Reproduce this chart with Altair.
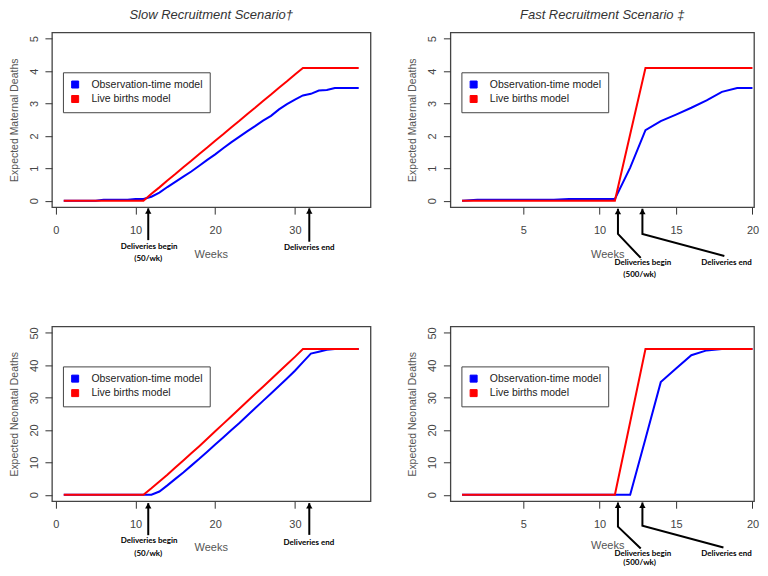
import altair as alt
import pandas as pd

# ---------------- data ----------------
weeks_slow = list(range(1, 39))
weeks_fast = list(range(1, 21))

series_names = ["Observation-time model", "Live births model"]
series_colors = ["#0000ff", "#ff0000"]

slow_maternal_obs = [0, 0, 0, 0, 0, 0.03, 0.03, 0.03, 0.03, 0.05, 0.05,
                     0.12, 0.25, 0.42, 0.58, 0.74, 0.90, 1.08, 1.26, 1.43, 1.62,
                     1.80, 1.97, 2.14, 2.30, 2.47, 2.62, 2.82, 2.98, 3.12, 3.25,
                     3.30, 3.40, 3.42, 3.48, 3.48, 3.48, 3.48]
slow_maternal_live = [0, 0, 0, 0, 0, 0, 0, 0, 0, 0, 0,
                      0.21, 0.41, 0.62, 0.82, 1.03, 1.23, 1.44, 1.64, 1.85, 2.05,
                      2.26, 2.46, 2.67, 2.87, 3.08, 3.28, 3.49, 3.69, 3.90, 4.10,
                      4.10, 4.10, 4.10, 4.10, 4.10, 4.10, 4.10]

fast_maternal_obs = [0, 0.03, 0.03, 0.03, 0.03, 0.03, 0.03, 0.05, 0.05, 0.05, 0.05,
                     1.02, 2.18, 2.46, 2.66, 2.87, 3.10, 3.36, 3.48, 3.48]
fast_maternal_live = [0, 0, 0, 0, 0, 0, 0, 0, 0, 0, 0,
                      2.05, 4.10, 4.10, 4.10, 4.10, 4.10, 4.10, 4.10, 4.10]

slow_neonatal_obs = [0, 0, 0, 0, 0, 0, 0, 0, 0, 0, 0, 0,
                     1.0, 2.9, 4.9, 6.9, 9.0, 11.1, 13.3, 15.5, 17.7, 19.9,
                     22.1, 24.4, 26.7, 29.0, 31.3, 33.6, 35.9, 38.3, 41.0, 43.6,
                     44.2, 44.8, 45.0, 45.0, 45.0, 45.0]
slow_neonatal_live = [0, 0, 0, 0, 0, 0, 0, 0, 0, 0, 0,
                      2.0, 4.1, 6.2, 8.4, 10.6, 12.8, 15.0, 17.3, 19.6, 21.9,
                      24.2, 26.5, 28.8, 31.1, 33.4, 35.7, 38.0, 40.3, 42.6, 45.0,
                      45.0, 45.0, 45.0, 45.0, 45.0, 45.0, 45.0]

fast_neonatal_obs = [0, 0, 0, 0, 0, 0, 0, 0, 0, 0, 0, 0,
                     17.3, 34.8, 39.0, 43.1, 44.6, 45.0, 45.0, 45.0]
fast_neonatal_live = [0, 0, 0, 0, 0, 0, 0, 0, 0, 0, 0,
                      22.5, 45.0, 45.0, 45.0, 45.0, 45.0, 45.0, 45.0, 45.0]

x_ticks_slow = [0, 10, 20, 30]
x_ticks_fast = [5, 10, 15, 20]
y_ticks_maternal = [0, 1, 2, 3, 4, 5]
y_ticks_neonatal = [0, 10, 20, 30, 40, 50]
x_domain_slow = [-0.48, 39.48]
x_domain_fast = [0.24, 20.1]
y_domain_maternal = [-0.2, 5.2]
y_domain_neonatal = [-2.0, 52.0]

# annotation arrows (week / value in data units) and labels
arrow2_id = ["begin", "begin", "end", "end"]
arrow2_step = [0, 1, 0, 1]
arrow3_id = ["begin", "begin", "begin", "end", "end", "end"]
arrow3_step = [0, 1, 2, 0, 1, 2]

tl_arrow_week = [11.6, 11.6, 31.8, 31.8]
tl_arrow_value = [-0.24, -1.22, -0.24, -1.27]
tl_label_text = ["Deliveries begin", "(50/wk)", "Deliveries end"]
tl_label_week = [11.7, 11.6, 31.8]
tl_label_value = [-1.42, -1.80, -1.46]

tr_arrow_week = [11.2, 11.2, 12.69, 12.8, 12.8, 18.16]
tr_arrow_value = [-0.25, -1.03, -1.77, -0.25, -1.03, -1.71]
tr_label_text = ["Deliveries begin", "(500/wk)", "Deliveries end"]
tr_label_week = [12.83, 12.62, 18.3]
tr_label_value = [-1.94, -2.30, -1.93]

bl_arrow_week = [11.6, 11.6, 31.8, 31.8]
bl_arrow_value = [-2.6, -12.5, -2.6, -12.4]
bl_label_text = ["Deliveries begin", "(50/wk)", "Deliveries end"]
bl_label_week = [11.7, 11.6, 31.75]
bl_label_value = [-14.2, -18.3, -15.05]

br_arrow_week = [11.2, 11.2, 12.69, 12.8, 12.8, 18.1]
br_arrow_value = [-2.4, -9.86, -16.6, -2.4, -9.6, -16.3]
br_label_text = ["Deliveries begin", "(500/wk)", "Deliveries end"]
br_label_week = [12.83, 12.62, 18.3]
br_label_value = [-18.4, -21.1, -18.4]

FONT = "Liberation Sans"


def panel(weeks, obs, live, xdom, xticks, ydom, yticks, ytitle, title,
          a_id, a_step, a_week, a_value, l_text, l_week, l_value,
          width, xtitle_x, xtitle_y):
    n = len(weeks)
    df = pd.DataFrame({
        "week": weeks + weeks,
        "deaths": obs + live,
        "series": [series_names[0]] * n + [series_names[1]] * n,
    })
    arrows = pd.DataFrame({"arrow": a_id, "step": a_step, "week": a_week, "deaths": a_value})
    labels = pd.DataFrame({"label": l_text, "week": l_week, "deaths": l_value})

    x = alt.X("week:Q", scale=alt.Scale(domain=xdom, nice=False, zero=False),
              axis=alt.Axis(values=xticks, title="Weeks", titleX=xtitle_x, titleY=xtitle_y))
    y = alt.Y("deaths:Q", scale=alt.Scale(domain=ydom, nice=False, zero=False),
              axis=alt.Axis(values=yticks, title=ytitle))

    legend_layer = alt.Chart(df).transform_filter("false").mark_square(
        filled=True, stroke="black", strokeWidth=1, opacity=1
    ).encode(
        x=x, y=y,
        fill=alt.Fill("series:N", scale=alt.Scale(domain=series_names, range=series_colors),
                      legend=alt.Legend(title=None, orient="none", legendX=11, legendY=40,
                                        symbolType="square", symbolSize=49,
                                        symbolStrokeColor="black", symbolStrokeWidth=1,
                                        symbolOpacity=1,
                                        labelFont=FONT, labelFontSize=10.5, labelColor="#222",
                                        strokeColor="#444", fillColor="white", padding=7,
                                        rowPadding=2.5, labelOffset=11, cornerRadius=0)),
    )
    stroke = alt.Stroke("series:N", scale=alt.Scale(domain=series_names, range=series_colors),
                        legend=None)
    blue = alt.Chart(df).transform_filter(alt.datum.series == series_names[0]).mark_line(
        strokeWidth=2).encode(x=x, y=y, stroke=stroke)
    red = alt.Chart(df).transform_filter(alt.datum.series == series_names[1]).mark_line(
        strokeWidth=2).encode(x=x, y=y, stroke=stroke)
    arrow_lines = alt.Chart(arrows).mark_line(color="black", strokeWidth=2, clip=False).encode(
        x=x, y=y, detail="arrow:N", order=alt.Order("step:Q"))
    heads = alt.Chart(arrows).transform_filter(alt.datum.step == 0).mark_point(
        shape="triangle-up", filled=True, color="black", opacity=1, size=40,
        yOffset=2.7, clip=False).encode(x=x, y=y)
    texts = alt.Chart(labels).mark_text(font="Lato", fontWeight="bold", fontSize=8,
                                        color="black", clip=False).encode(
        x=x, y=y, text="label:N")

    props = dict(width=width, height=175)
    if title:
        props["title"] = alt.TitleParams(title, font=FONT, fontSize=13, fontStyle="italic",
                                         fontWeight="normal", color="#333", offset=-3,
                                         frame="group", anchor="middle", baseline="bottom")
    return alt.layer(legend_layer, blue, red, arrow_lines, heads, texts).properties(**props)


p1 = panel(weeks_slow, slow_maternal_obs, slow_maternal_live, x_domain_slow, x_ticks_slow,
           y_domain_maternal, y_ticks_maternal, "Expected Maternal Deaths",
           "Slow Recruitment Scenario\u2020",
           arrow2_id, arrow2_step, tl_arrow_week, tl_arrow_value,
           tl_label_text, tl_label_week, tl_label_value, 319, 159, 47)
p2 = panel(weeks_fast, fast_maternal_obs, fast_maternal_live, x_domain_fast, x_ticks_fast,
           y_domain_maternal, y_ticks_maternal, "Expected Maternal Deaths",
           "Fast Recruitment Scenario \u2021",
           arrow3_id, arrow3_step, tr_arrow_week, tr_arrow_value,
           tr_label_text, tr_label_week, tr_label_value, 304, 157, 47)
p3 = panel(weeks_slow, slow_neonatal_obs, slow_neonatal_live, x_domain_slow, x_ticks_slow,
           y_domain_neonatal, y_ticks_neonatal, "Expected Neonatal Deaths", None,
           arrow2_id, arrow2_step, bl_arrow_week, bl_arrow_value,
           bl_label_text, bl_label_week, bl_label_value, 319, 159, 46.3)
p4 = panel(weeks_fast, fast_neonatal_obs, fast_neonatal_live, x_domain_fast, x_ticks_fast,
           y_domain_neonatal, y_ticks_neonatal, "Expected Neonatal Deaths", None,
           arrow3_id, arrow3_step, br_arrow_week, br_arrow_value,
           br_label_text, br_label_week, br_label_value, 304, 157, 44.5)

chart = alt.concat(p1, p2, p3, p4, columns=2, spacing={"row": 119.5, "column": 80},
                   bounds="flush").resolve_scale(
    fill="independent", stroke="independent"
).resolve_legend(fill="independent").properties(padding=0).configure_view(
    stroke="#444", strokeWidth=1.3
).configure_axis(
    domain=False, grid=False, tickSize=7, tickColor="#333", tickWidth=1,
    labelFont=FONT, labelFontSize=11, labelColor="#444", labelFlush=False,
    labelOverlap=False, titleFont=FONT, titleFontWeight="normal", titleColor="#555"
).configure_axisX(
    labelBaseline="middle", labelPadding=16, titleFontSize=11,
    titleAlign="center", titleBaseline="middle"
).configure_axisY(
    labelAngle=270, labelAlign="center", labelBaseline="alphabetic", labelPadding=7.5,
    titleFontSize=10.5, titleAngle=270, titleX=-37.5, titleY=87.5,
    titleAlign="center", titleBaseline="middle"
)

chart.save("out.html", embed_options={"renderer": "svg", "actions": False})
